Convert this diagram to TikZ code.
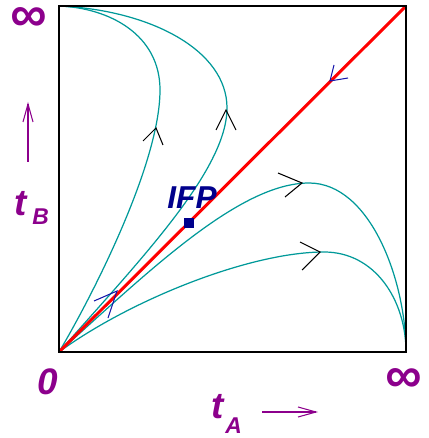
\documentclass[tikz,border=0pt]{standalone}
\usepackage{fontspec}
\setmainfont{Liberation Sans}
\usetikzlibrary{arrows.meta}
\definecolor{axispurple}{RGB}{140,0,140}
\definecolor{flowteal}{RGB}{0,153,153}
\definecolor{ifpnavy}{RGB}{0,0,140}
\definecolor{headblue}{RGB}{20,20,170}
\begin{document}
\begin{tikzpicture}[x=0.02cm,y=-0.02cm,
  every node/.style={inner sep=0pt,text=axispurple,font=\bfseries\itshape\fontsize{21}{21}\selectfont},
  subscr/.style={font=\bfseries\itshape\fontsize{13}{13}\selectfont},
  infty/.style={font=\bfseries\itshape\fontsize{29}{29}\selectfont},
  flow/.style={flowteal,line width=0.7pt},
  vhead/.style={line width=0.6pt},
  axisarrow/.style={axispurple,line width=0.6pt,-{Straight Barb[length=0.36cm,width=0.2cm]}}]
\useasboundingbox (0,0) rectangle (428,438);
\coordinate (O) at (59,352);
\coordinate (TL) at (59,6);
\coordinate (TR) at (406,6);
\coordinate (BR) at (406,352);
% flow lines towards t_B = infinity
\draw[flow] (O) .. controls (90,300) and (160,165) .. (160,90) .. controls (160,35) and (110,8) .. (TL);
\draw[flow] (O) .. controls (140,260) and (227,170) .. (227,108) .. controls (227,50) and (150,10) .. (TL);
% flow lines towards t_A = infinity
\draw[flow] (O) .. controls (150,270) and (240,183) .. (309,183) .. controls (370,183) and (406,280) .. (BR);
\draw[flow] (O) .. controls (130,300) and (250,252) .. (324,252) .. controls (375,252) and (406,300) .. (BR);
% separatrix
\draw[red,line width=1.7pt] (O) -- (TR);
% frame
\draw[line width=1.1pt] (TL) rectangle (BR);
% heads on the flow lines
\draw[vhead] (143,141) -- (156,128) -- (163,145);
\draw[vhead] (216,130) -- (226,110) -- (236,130);
\draw[vhead] (278,173) -- (302,183) -- (285,197);
\draw[vhead] (300,242) -- (320,252) -- (302,270);
\draw[vhead,headblue] (334,65) -- (330,81) -- (348,78);
\draw[vhead,headblue] (94,301) -- (117,291) -- (108,318);
% fixed point
\fill[ifpnavy] (183.5,218.5) rectangle (193.5,228.5);
\node[text=ifpnavy,font=\bfseries\itshape\fontsize{18}{18}\selectfont,anchor=base] (ifp) at (192,209) {IFP};
% axes labels
\node[infty] (infB) at (28.5,20) {∞};
\node[infty] (infA) at (404,381) {∞};
\node[anchor=base] (zero) at (47.5,394) {0};
\node[anchor=base west] (tB) at (14,215) {t};
\node[subscr,anchor=base west] (subB) at (32,225) {B};
\node[anchor=base west] (tA) at (211,418) {t};
\node[subscr,anchor=base west] (subA) at (225,433) {A};
\draw[axisarrow] (28,162) -- (28,102);
\draw[axisarrow] (262,412) -- (318,412);
\end{tikzpicture}
\end{document}
